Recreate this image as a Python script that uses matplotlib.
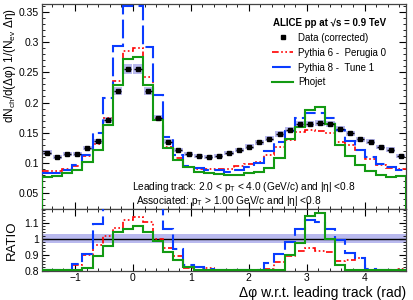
import numpy as np
import matplotlib
matplotlib.use("Agg")
import matplotlib.pyplot as plt
from matplotlib.lines import Line2D
from matplotlib.ticker import MultipleLocator

# 36 bins in delta phi from -pi/2 to 3pi/2
n_bins = 36

data = [0.117, 0.110, 0.114, 0.114, 0.125, 0.136, 0.171, 0.2195, 0.2555, 0.2555,
        0.219, 0.174, 0.135, 0.121, 0.114, 0.111, 0.109, 0.112, 0.116, 0.121,
        0.127, 0.134, 0.140, 0.148, 0.155, 0.164, 0.164, 0.1655, 0.164, 0.156,
        0.149, 0.139, 0.135, 0.126, 0.122, 0.111]

pythia6 = [0.0865, 0.0865, 0.090, 0.095, 0.112, 0.131, 0.174, 0.235, 0.286, 0.290,
           0.242, 0.174, 0.127, 0.108, 0.093, 0.089, 0.089, 0.089, 0.090, 0.094,
           0.098, 0.102, 0.113, 0.126, 0.138, 0.1516, 0.154, 0.153, 0.150, 0.134,
           0.129, 0.122, 0.106, 0.0964, 0.092, 0.090]

pythia8 = [0.083, 0.083, 0.088, 0.096, 0.113, 0.149, 0.208, 0.293, 0.360, 0.360,
           0.2925, 0.212, 0.143, 0.113, 0.095, 0.091, 0.088, 0.088, 0.085, 0.088,
           0.0936, 0.099, 0.119, 0.134, 0.152, 0.174, 0.183, 0.183, 0.174, 0.155,
           0.136, 0.122, 0.109, 0.0975, 0.0926, 0.088]

phojet = [0.076, 0.078, 0.0826, 0.088, 0.102, 0.121, 0.163, 0.2285, 0.2715, 0.276,
          0.2285, 0.171, 0.124, 0.105, 0.0936, 0.085, 0.0826, 0.081, 0.080, 0.080,
          0.0826, 0.085, 0.091, 0.1075, 0.139, 0.160, 0.1876, 0.1928, 0.164, 0.130,
          0.111, 0.096, 0.087, 0.080, 0.077, 0.078]

syst_rel = 0.03      # size of the blue boxes around data points
ratio_band = 0.03    # normalisation band in the ratio panel

RED = "#ff0000"
BLUE = "#0a3cff"
GREEN = "#139a13"
LAVENDER = "#b9b9ee"


def main():
    plt.rcParams["font.family"] = ["Liberation Sans", "DejaVu Sans"]
    plt.rcParams["mathtext.default"] = "regular"

    edges = np.linspace(-np.pi / 2, 3 * np.pi / 2, n_bins + 1)
    centers = 0.5 * (edges[1:] + edges[:-1])
    bw = edges[1] - edges[0]

    d = np.array(data)
    mc = {"p6": np.array(pythia6), "p8": np.array(pythia8), "ph": np.array(phojet)}

    fig = plt.figure(figsize=(4.14, 3.0), dpi=100)
    ax = fig.add_axes([0.1014, 0.3033, 0.879, 0.6834])
    axr = fig.add_axes([0.1014, 0.0983, 0.879, 0.2050], sharex=ax)

    # upper panel
    ax.bar(centers, 2 * syst_rel * d, bottom=d * (1 - syst_rel), width=bw * 0.9,
           color=LAVENDER, lw=0, zorder=1)
    ax.stairs(mc["p6"], edges, baseline=None, color=RED, lw=1.2,
              linestyle=(0, (4, 1.5, 1, 1.5, 1, 1.5)), zorder=3)
    ax.stairs(mc["p8"], edges, baseline=None, color=BLUE, lw=1.5,
              linestyle=(0, (9, 2.5)), zorder=3)
    ax.stairs(mc["ph"], edges, baseline=0, color=GREEN, lw=1.5, zorder=4)
    ax.errorbar(centers, d, xerr=bw * 0.35, fmt="s", color="k", ms=2.8, lw=1,
                capsize=0, zorder=5)

    ax.set_xlim(edges[0], edges[-1])
    ax.set_ylim(0.0235, 0.3633)
    ax.yaxis.set_minor_locator(MultipleLocator(0.01))
    ax.set_yticks([0.05, 0.1, 0.15, 0.2, 0.25, 0.3, 0.35])
    ax.set_yticklabels(["0.05", "0.1", "0.15", "0.2", "0.25", "0.3", "0.35"])
    ax.tick_params(labelbottom=False)
    ax.set_ylabel(r"dN$_{ch}$/d(Δφ) 1/(N$_{ev}$ Δη)", fontsize=8.5, loc="top")
    ax.yaxis.set_label_coords(-0.066, 0.98)

    handles = [
        Line2D([], [], marker="s", ls="none", color="k", ms=3),
        Line2D([], [], color=RED, lw=1.2, linestyle=(0, (4, 1.5, 1, 1.5, 1, 1.5))),
        Line2D([], [], color=BLUE, lw=1.5, linestyle=(0, (9, 2.5))),
        Line2D([], [], color=GREEN, lw=1.5),
    ]
    labels = ["Data (corrected)", "Pythia 6 -  Perugia 0", "Pythia 8 -  Tune 1",
              "Phojet"]
    leg = ax.legend(handles, labels, loc="upper right", bbox_to_anchor=(0.965, 0.965),
                    frameon=False, fontsize=7, handlelength=2.2, handletextpad=0.5,
                    labelspacing=0.5, borderpad=0.2,
                    title="ALICE pp at √s = 0.9 TeV",
                    title_fontproperties={"weight": "bold", "size": 7})
    leg._legend_box.align = "right"

    ax.text(0.248, 0.105, "Leading track: 2.0 < p$_{T}$ < 4.0 (GeV/c) and |η| <0.8",
            transform=ax.transAxes, fontsize=7.3, va="center")
    ax.text(0.259, 0.040, "Associated: p$_{T}$ > 1.00 GeV/c and |η| <0.8",
            transform=ax.transAxes, fontsize=7.3, va="center")

    # ratio panel
    lo, hi = 0.8, 1.187
    axr.axhspan(1 - ratio_band, 1 + ratio_band, color=LAVENDER, lw=0, zorder=1)
    axr.axhline(1.0, color="k", lw=1, zorder=2)
    axr.stairs(np.maximum(mc["p6"] / d, lo + 0.002), edges, baseline=None, color=RED,
               lw=1.2, linestyle=(0, (4, 1.5, 1, 1.5, 1, 1.5)), zorder=3)
    axr.stairs(np.maximum(mc["p8"] / d, lo + 0.002), edges, baseline=None, color=BLUE,
               lw=1.5, linestyle=(0, (9, 2.5)), zorder=3)
    axr.stairs(np.maximum(mc["ph"] / d, lo + 0.002), edges, baseline=None, color=GREEN,
               lw=1.5, zorder=4)
    axr.set_ylim(lo, hi)
    axr.set_yticks([0.8, 0.9, 1.0, 1.1])
    axr.set_yticklabels(["0.8", "0.9", "1", "1.1"])
    axr.yaxis.set_minor_locator(MultipleLocator(0.02))
    axr.set_xticks([-1, 0, 1, 2, 3, 4])
    axr.xaxis.set_minor_locator(MultipleLocator(0.2))
    axr.set_ylabel("RATIO", fontsize=9.5)
    axr.yaxis.set_label_coords(-0.066, 0.5)
    axr.set_xlabel("Δφ w.r.t. leading track (rad)", fontsize=10, loc="right",
                   labelpad=2)

    for a in (ax, axr):
        a.tick_params(which="both", direction="in", top=True, right=True,
                      labelsize=7.5, pad=2)
        a.tick_params(which="major", length=5, width=0.8)
        a.tick_params(which="minor", length=2.5, width=0.6)
        for s in a.spines.values():
            s.set_linewidth(0.9)
            s.set_color("#444444")

    fig.savefig("out.png", dpi=100)


if __name__ == "__main__":
    main()
